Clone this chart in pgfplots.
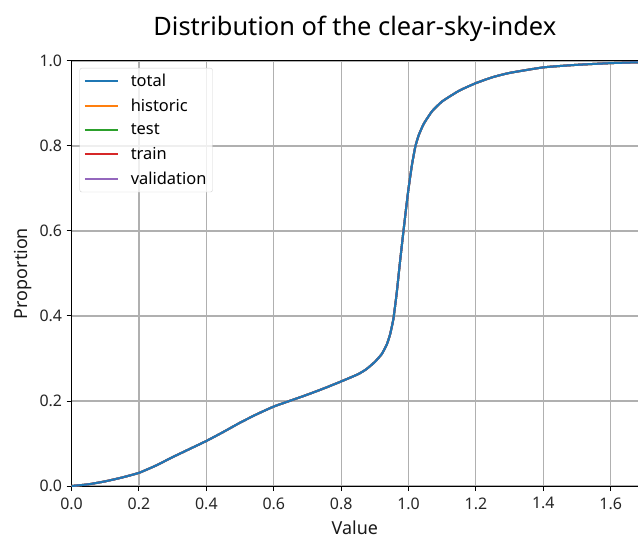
\documentclass[border=0pt]{standalone}
\usepackage{pgfplots}
\pgfplotsset{compat=1.18}
\usepackage{pgfplotstable}
\usepackage{fontspec}
\setmainfont{Noto Sans}

\definecolor{tabblue}{HTML}{1F77B4}
\definecolor{taborange}{HTML}{FF7F0E}
\definecolor{tabgreen}{HTML}{2CA02C}
\definecolor{tabred}{HTML}{D62728}
\definecolor{tabpurple}{HTML}{9467BD}
\definecolor{gridgray}{HTML}{B0B0B0}

% empirical CDF of the clear-sky-index (all subsets coincide)
\pgfplotstableread{
x y
0.000 0.000
0.050 0.004
0.100 0.011
0.150 0.020
0.200 0.031
0.250 0.048
0.300 0.068
0.350 0.087
0.400 0.106
0.450 0.127
0.500 0.149
0.550 0.169
0.600 0.187
0.650 0.201
0.700 0.215
0.750 0.230
0.800 0.246
0.850 0.263
0.875 0.275
0.900 0.292
0.920 0.310
0.935 0.332
0.945 0.356
0.955 0.393
0.965 0.455
0.975 0.530
0.985 0.600
0.993 0.655
1.000 0.700
1.010 0.755
1.020 0.798
1.030 0.825
1.045 0.852
1.070 0.882
1.100 0.905
1.150 0.930
1.200 0.948
1.250 0.962
1.300 0.972
1.400 0.985
1.500 0.991
1.600 0.995
1.681 0.997
}\cdf

\begin{document}
\begin{tikzpicture}
\begin{axis}[
  scale only axis,
  width=566.4bp, height=425bp,
  xmin=0, xmax=1.681, ymin=0, ymax=1,
  axis x line*=box, axis y line*=left,
  xtick={0,0.2,...,1.6}, ytick={0,0.2,...,1.0},
  xtick pos=bottom, ytick pos=left,
  tick align=outside, major tick length=5bp,
  every tick/.style={black, line width=1bp},
  axis line style={black, line width=1bp},
  grid=major,
  major grid style={gridgray, line width=1.1bp},
  /pgf/number format/.cd, fixed, fixed zerofill, precision=1, assume math mode=true,
  /pgfplots/.cd,
  tick label style={font=\fontsize{16}{18}\selectfont, black!85},
  xticklabel style={yshift=-3bp},
  yticklabel style={xshift=-1bp},
  xlabel={Value}, ylabel={Proportion},
  label style={font=\fontsize{18}{20}\selectfont, black!90},
  xlabel style={yshift=-5bp},
  ylabel style={yshift=1bp},
  title={Distribution of the clear-sky-index},
  title style={font=\fontsize{25.5}{28}\selectfont, yshift=10bp},
  legend style={at={(0,1)}, anchor=north west, xshift=8bp, yshift=-7bp,
    draw=gray!35, rounded corners=2bp, fill=white, fill opacity=0.8, text opacity=1,
    font=\fontsize{16.5}{18}\selectfont, inner xsep=4bp, inner ysep=4bp,
    row sep=7bp, cells={anchor=west}},
  legend image code/.code={%
    \path[draw=none] (0bp,0bp) -- (44bp,0bp);
    \draw[#1, line width=2bp] (0bp,0bp) -- (33bp,0bp);},
  legend cell align=left,
]
\addlegendimage{tabblue}
\addlegendentry{total}
\addlegendimage{taborange}
\addlegendentry{historic}
\addlegendimage{tabgreen}
\addlegendentry{test}
\addlegendimage{tabred}
\addlegendentry{train}
\addlegendimage{tabpurple}
\addlegendentry{validation}

\addplot[forget plot, taborange, line width=2bp, smooth, tension=0.3] table {\cdf};
\addplot[forget plot, tabgreen, line width=2bp, smooth, tension=0.3] table {\cdf};
\addplot[forget plot, tabred, line width=2bp, smooth, tension=0.3] table {\cdf};
\addplot[forget plot, tabpurple, line width=2bp, smooth, tension=0.3] table {\cdf};
\addplot[forget plot, tabblue, line width=2bp, smooth, tension=0.3] table {\cdf};

\coordinate (sw) at (rel axis cs:0,0);
\coordinate (ne) at (rel axis cs:1,1);
\end{axis}
\pgfresetboundingbox
\path[use as bounding box] ([shift={(-71.6bp,-55bp)}]sw) rectangle ([shift={(0bp,61bp)}]ne);
\end{tikzpicture}
\end{document}
